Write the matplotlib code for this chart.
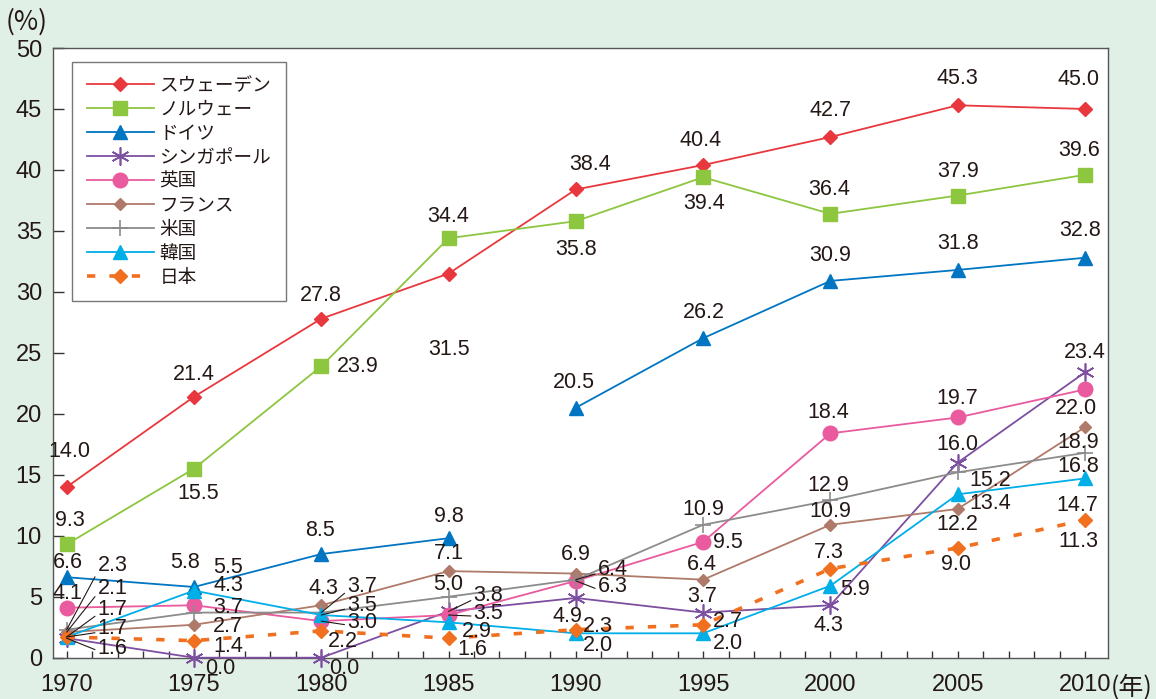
import matplotlib
matplotlib.use("Agg")
import matplotlib.pyplot as plt
from matplotlib.ticker import MultipleLocator

# ---------------- data ----------------
years = [1970, 1975, 1980, 1985, 1990, 1995, 2000, 2005, 2010]
sweden = [14.0, 21.4, 27.8, 31.5, 38.4, 40.4, 42.7, 45.3, 45.0]
norway = [9.3, 15.5, 23.9, 34.4, 35.8, 39.4, 36.4, 37.9, 39.6]
germany = [6.6, 5.8, 8.5, 9.8, 20.5, 26.2, 30.9, 31.8, 32.8]
singapore = [1.6, 0.0, 0.0, 3.8, 4.9, 3.7, 4.3, 16.0, 23.4]
uk = [4.1, 4.3, 3.0, 3.5, 6.3, 9.5, 18.4, 19.7, 22.0]
france = [2.1, 2.7, 4.3, 7.1, 6.9, 6.4, 10.9, 12.2, 18.9]
us = [2.3, 3.7, 3.7, 5.0, 6.4, 10.9, 12.9, 15.2, 16.8]
korea = [1.7, 5.5, 3.5, 2.9, 2.0, 2.0, 5.9, 13.4, 14.7]
japan = [1.7, 1.4, 2.2, 1.6, 2.3, 2.7, 7.3, 9.0, 11.3]

names = ["スウェーデン", "ノルウェー", "ドイツ", "シンガポール", "英国",
         "フランス", "米国", "韓国", "日本"]
xtick_labels = ["1970", "1975", "1980", "1985", "1990", "1995", "2000", "2005", "2010"]

# ---------------- styles ----------------
BG = "#e1f0e7"
TEXT = "#231815"
NUMFONT = ["Liberation Sans", "DejaVu Sans"]
CJKFONT = ["Noto Sans CJK JP", "DejaVu Sans"]

# label offsets (pixels, dx right, dy down) and leader flags
offs = {
    "sweden": [(3, -35), (0, -22), (0, -23), (0, 76), (14, -25), (-3, -25), (0, -27), (0, -27), (-6, -29)],
    "norway": [(3, -24), (4, 25), (36, 0), (0, -22), (0, 28), (1, 26), (-1, -24), (0, -24), (-6, -24)],
    "germany": [(1, -15), (-9, -24), (-1, -24), (0, -22), (-2, -25), (1, -26), (0, -25), (0, -26), (-5, -27)],
    "singapore": [(46, 10), (26, 11), (23, 11), (40, -16), (-8, 19), (-1, -16), (-2, 20), (0, -18), (0, -20)],
    "uk": [(1, -14), (34, -20), (41, 1), (40, -2), (37, 6), (25, 1), (-2, -21), (0, -19), (-9, 19)],
    "france": [(46, -44), (34, 2), (2, -17), (0, -18), (0, -19), (-1, -15), (0, -13), (0, 16), (-7, 15)],
    "us": [(46, -64), (34, -5), (41, -26), (0, -12), (37, -10), (0, -15), (-2, -15), (33, 8), (-7, 14)],
    "korea": [(46, -27), (34, -23), (41, -10), (28, 9), (22, 12), (25, 10), (25, 4), (33, 9), (-8, 27)],
    "japan": [(46, -8), (34, 6), (22, 11), (24, 11), (22, -3), (25, -3), (-2, -16), (-2, 17), (-7, 22)],
}
leaders = {
    "singapore": [0, 3],
    "uk": [2, 3, 4],
    "france": [0],
    "us": [0, 2, 4],
    "korea": [0, 2],
    "japan": [0],
}

fig = plt.figure(figsize=(11.56, 6.99), dpi=100, facecolor=BG)
ax = fig.add_axes([0.04585, 0.05908, 0.91263, 0.87225])
ax.set_facecolor("white")

series = [
    ("sweden", sweden, dict(color="#e8383d", marker="D", ms=7, lw=1.3)),
    ("norway", norway, dict(color="#8dc63f", marker="s", ms=10.5, lw=1.3)),
    ("germany", germany, dict(color="#0075c2", marker="^", ms=10, lw=1.3)),
    ("singapore", singapore, dict(color="#7d4fa0", marker=(6, 2, 0), ms=13, mew=1.2, lw=1.3)),
    ("uk", uk, dict(color="#ea5a9e", marker="o", ms=10.5, lw=1.3)),
    ("france", france, dict(color="#b07a6a", marker="D", ms=6, lw=1.3)),
    ("us", us, dict(color="#8c8c8c", marker="+", ms=12, mew=1.2, lw=1.3)),
    ("korea", korea, dict(color="#00aee8", marker="^", ms=10, lw=1.3)),
    ("japan", japan, dict(color="#f07020", marker="D", ms=7.5, lw=2.6, ls=(0, (2.3, 3.9)),
                          dash_capstyle="butt")),
]

handles = []
for (key, vals, st), name in zip(series, names):
    if key == "germany":
        h, = ax.plot(years[:4], vals[:4], clip_on=False, zorder=3, **st)
        ax.plot(years[4:], vals[4:], clip_on=False, zorder=3, **st)
    else:
        h, = ax.plot(years, vals, clip_on=False, zorder=3, **st)
    handles.append(h)
    lead = leaders.get(key, [])
    for i, (x, v) in enumerate(zip(years, vals)):
        dx, dy = offs[key][i]
        kw = {}
        if i in lead:
            kw["arrowprops"] = dict(arrowstyle="-", color=TEXT, lw=0.8,
                                    shrinkA=0, shrinkB=0, relpos=(0.05, 0.35))
        ax.annotate(f"{v:.1f}", (x, v), xytext=(dx, -dy), textcoords="offset pixels",
                    ha="center", va="center", fontsize=15.5, color=TEXT,
                    family=NUMFONT, annotation_clip=False, zorder=5, **kw)

ax.set_xlim(1969.462, 2010.904)
ax.set_ylim(0, 50)
ax.set_xticks(years)
ax.set_xticklabels(xtick_labels)
ax.xaxis.set_minor_locator(MultipleLocator(1))
ax.set_yticks(range(0, 51, 5))
ax.tick_params(axis="both", which="both", direction="in", color="#333333", width=1)
ax.tick_params(axis="x", which="both", length=5, pad=12)
ax.tick_params(axis="y", which="major", length=8, pad=8)
for lab in ax.get_xticklabels() + ax.get_yticklabels():
    lab.set_fontsize(17)
    lab.set_color(TEXT)
    lab.set_family(NUMFONT)
for sp in ax.spines.values():
    sp.set_color("#555555")
    sp.set_linewidth(1.0)

fig.text(27 / 1156, 1 - 22 / 699, "(%)", fontsize=19, color=TEXT, family=CJKFONT,
         ha="center", va="center")
fig.text(1132 / 1156, 1 - 688 / 699, "(年)", fontsize=18, color=TEXT, family=CJKFONT,
         ha="center", va="center")

leg = ax.legend(handles, names, loc="upper left", bbox_to_anchor=(0.018, 0.977),
                borderaxespad=0, fancybox=False, frameon=True, handlelength=3.6,
                handletextpad=0.3, labelspacing=0.32, borderpad=0.8,
                prop={"family": CJKFONT, "size": 13.4})
leg.get_frame().set_edgecolor("#555555")
leg.get_frame().set_linewidth(1.0)
for t in leg.get_texts():
    t.set_color(TEXT)
leg.set_zorder(10)

fig.savefig("out.png", dpi=100, facecolor=BG)
